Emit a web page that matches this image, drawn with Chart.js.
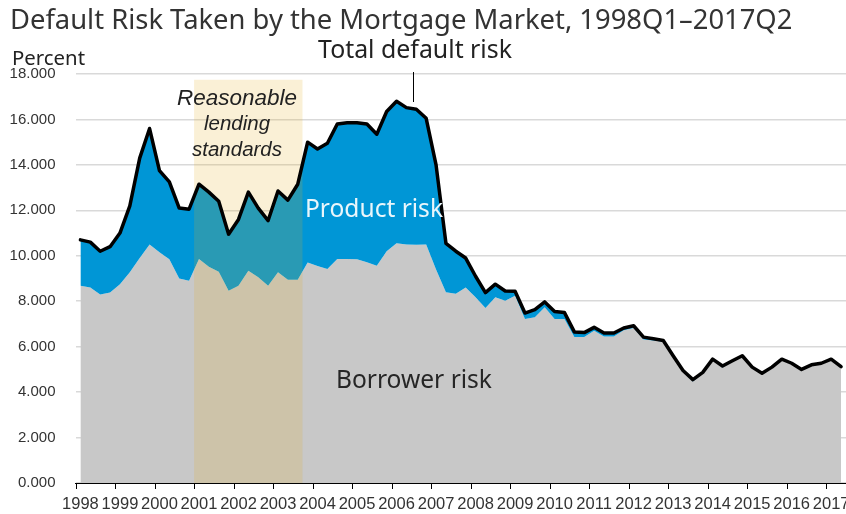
<!DOCTYPE html>
<html>
<head>
<meta charset="utf-8">
<script src="https://cdn.jsdelivr.net/npm/chart.js@4.4.1/dist/chart.umd.min.js"></script>
<style>
  html, body { margin: 0; padding: 0; background: #fff; overflow: hidden; }
  #wrap { width: 846px; height: 514px; position: relative; }
</style>
</head>
<body>
<div id="wrap"><canvas id="chart"></canvas></div>
<script>
/* ============================================================
   DATA — quarterly, 1998Q1 .. 2017Q2 (percent)
============================================================ */
const yearLabels = ['1998', '1999', '2000', '2001', '2002', '2003', '2004', '2005', '2006', '2007',
                    '2008', '2009', '2010', '2011', '2012', '2013', '2014', '2015', '2016', '2017'];

// borrower risk (grey area)
const borrowerRisk = [
  8.68, 8.60, 8.30, 8.38, 8.75, 9.27, 9.90, 10.50,   // 1998-1999
  10.15, 9.85, 9.00, 8.90, 9.86, 9.52, 9.30, 8.46,   // 2000-2001
  8.68, 9.34, 9.05, 8.68, 9.27, 8.95, 8.95, 9.70,    // 2002-2003
  9.55, 9.42, 9.86, 9.86, 9.85, 9.71, 9.56, 10.20,   // 2004-2005
  10.55, 10.50, 10.48, 10.50, 9.40, 8.40, 8.33, 8.60, // 2006-2007
  8.17, 7.70, 8.17, 8.02, 8.24, 7.22, 7.30, 7.73,    // 2008-2009
  7.22, 7.22, 6.42, 6.42, 6.70, 6.45, 6.45, 6.72,    // 2010-2011
  6.82, 6.32, 6.27, 6.22, 5.55, 4.90, 4.47, 4.82,    // 2012-2013
  5.42, 5.08, 5.34, 5.57, 5.07, 4.80, 5.07, 5.43,    // 2014-2015
  5.24, 4.97, 5.18, 5.25, 5.43, 5.10                 // 2016-2017Q2
];

// total default risk (black line); product risk is the band between the two
const totalRisk = [
  10.70, 10.60, 10.20, 10.40, 11.00, 12.20, 14.30, 15.60,
  13.75, 13.25, 12.10, 12.05, 13.15, 12.80, 12.40, 10.95,
  11.60, 12.80, 12.10, 11.55, 12.85, 12.45, 13.15, 15.00,
  14.70, 14.95, 15.80, 15.85, 15.85, 15.80, 15.35, 16.35,
  16.80, 16.52, 16.45, 16.05, 14.00, 10.55, 10.20, 9.90,
  9.10, 8.38, 8.75, 8.45, 8.44, 7.48, 7.63, 7.97,
  7.55, 7.50, 6.65, 6.62, 6.85, 6.60, 6.60, 6.82,
  6.92, 6.42, 6.35, 6.27, 5.60, 4.95, 4.55, 4.87,
  5.45, 5.15, 5.38, 5.60, 5.10, 4.83, 5.10, 5.45,
  5.27, 5.00, 5.20, 5.27, 5.45, 5.12
];

const yTicks = [0, 2, 4, 6, 8, 10, 12, 14, 16, 18];

// shaded "reasonable lending standards" period
const shadeFrom = '2001Q1';
const shadeTo = '2003Q3';
const shadeTop = 17.75;

/* ============================================================
   HELPERS
============================================================ */
const qIndex = q => (parseInt(q) - parseInt(yearLabels[0])) * 4 + (parseInt(q.split('Q')[1]) - 1);
const pts = arr => arr.map((v, i) => ({ x: i, y: v }));
const FONT = "'Noto Sans', 'Open Sans', sans-serif";

// font size so that the text fills a given width
const fitSize = (ctx, text, style, family, width) => {
  ctx.font = `${style} 20px ${family}`;
  return 20 * width / ctx.measureText(text).width;
};
const drawText = (ctx, text, x, y, opt) => {
  const size = opt.width ? fitSize(ctx, text, opt.style || '', opt.family || FONT, opt.width) : opt.size;
  ctx.font = `${opt.style || ''} ${size}px ${opt.family || FONT}`;
  ctx.fillStyle = opt.color || '#333';
  ctx.textAlign = opt.align || 'left';
  ctx.textBaseline = 'alphabetic';
  ctx.fillText(text, x, y);
};

/* ============================================================
   ANNOTATIONS
============================================================ */
const annotations = {
  id: 'annotations',
  afterDatasetsDraw(chart) {
    const { ctx } = chart;
    const xs = chart.scales.x;
    const bottom = chart.chartArea.bottom;
    ctx.save();
    // year tick marks sit between Q4 and Q1
    ctx.strokeStyle = '#000';
    ctx.lineWidth = 1;
    ctx.beginPath();
    yearLabels.forEach((y, k) => {
      const px = Math.round(xs.getPixelForValue(k * 4 - 0.5)) + 0.5;
      ctx.moveTo(px, bottom);
      ctx.lineTo(px, bottom + 6);
    });
    ctx.stroke();

    // leader for "Total default risk"
    ctx.beginPath();
    ctx.moveTo(413.5, 72);
    ctx.lineTo(413.5, 102);
    ctx.stroke();
    ctx.restore();
  },
  afterDraw(chart) {
    const { ctx } = chart;
    ctx.save();
    drawText(ctx, 'Default Risk Taken by the Mortgage Market, 1998Q1\u20132017Q2', 10, 29, { width: 783, color: '#333' });
    drawText(ctx, 'Percent', 12, 65, { width: 73, color: '#222' });
    drawText(ctx, 'Total default risk', 415, 58, { width: 194, align: 'center', color: '#222' });

    const it = "'Liberation Sans', Arial, sans-serif";
    drawText(ctx, 'Reasonable', 237, 104.5, { width: 120, style: 'italic', family: it, align: 'center', color: '#222' });
    drawText(ctx, 'lending', 237, 130, { size: 20.5, style: 'italic', family: it, align: 'center', color: '#222' });
    drawText(ctx, 'standards', 237, 156, { size: 20.5, style: 'italic', family: it, align: 'center', color: '#222' });

    drawText(ctx, 'Product risk', 374, 217, { width: 138, align: 'center', color: '#eaf6fb' });
    drawText(ctx, 'Borrower risk', 414, 388, { width: 156, align: 'center', color: '#262626' });
    ctx.restore();
  }
};

/* ============================================================
   CHART
============================================================ */
const line = {
  pointRadius: 0, pointHoverRadius: 0, tension: 0
};

new Chart(document.getElementById('chart'), {
  type: 'line',
  data: {
    datasets: [
      { ...line, label: 'Borrower risk', data: pts(borrowerRisk), fill: 'origin',
        backgroundColor: '#c8c8c8', borderColor: 'transparent', borderWidth: 0, order: 4 },
      { ...line, label: 'Product risk', data: pts(totalRisk), fill: '-1',
        backgroundColor: '#0096d6', borderColor: 'transparent', borderWidth: 0, order: 3 },
      { ...line, label: 'Reasonable lending standards', fill: 'origin',
        data: [{ x: qIndex(shadeFrom) - 0.5, y: shadeTop }, { x: qIndex(shadeTo) + 0.5, y: shadeTop }],
        backgroundColor: 'rgba(228,171,29,0.18)', borderColor: 'transparent', borderWidth: 0, order: 2 },
      { ...line, label: 'Total default risk', data: pts(totalRisk), fill: false,
        borderColor: '#000', borderWidth: 3.5, borderJoinStyle: 'round', borderCapStyle: 'round', order: 1 }
    ]
  },
  options: {
    responsive: true,
    maintainAspectRatio: false,
    animation: false,
    layout: { padding: { top: 74, left: 0, right: 0, bottom: 0 } },
    plugins: { legend: { display: false }, tooltip: { enabled: false } },
    scales: {
      x: {
        type: 'linear',
        min: -0.5,
        max: 77.5,
        afterBuildTicks: s => { s.ticks = yearLabels.map((y, k) => ({ value: k * 4 })); },
        afterFit: s => { s.height = 31; s.paddingLeft = 0; s.paddingRight = 0; },
        ticks: {
          autoSkip: false, maxRotation: 0, padding: 12,
          color: '#333',
          font: { family: "'Liberation Sans', Arial, sans-serif", size: 16.5 },
          callback: (v, i) => yearLabels[i]
        },
        grid: { display: false, drawTicks: false, tickLength: 0 },
        border: { display: true, color: '#000', width: 1 }
      },
      y: {
        min: 0,
        max: 18,
        afterBuildTicks: s => { s.ticks = yTicks.map(v => ({ value: v })); },
        afterFit: s => { s.width = 75.5; },
        ticks: {
          padding: 20, color: '#333',
          font: { family: "'Liberation Sans', Arial, sans-serif", size: 15 },
          callback: v => v.toFixed(3)
        },
        grid: { color: '#d9d9d9', lineWidth: 1.5, drawTicks: false },
        border: { display: false }
      }
    }
  },
  plugins: [annotations]
});
</script>
</body>
</html>
